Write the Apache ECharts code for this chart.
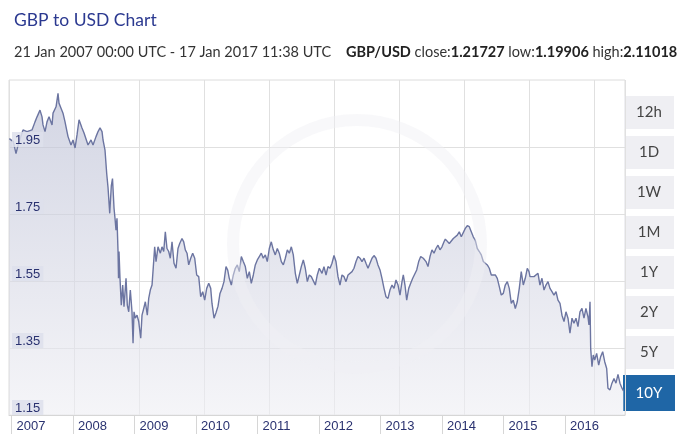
<!DOCTYPE html>
<html>
<head>
<meta charset="utf-8">
<script src="https://cdn.jsdelivr.net/npm/echarts@6/dist/echarts.min.js"></script>
<style>
html,body{margin:0;padding:0;background:#fff;}
#chart{width:687px;height:434px;}
</style>
</head>
<body>
<div id="chart"></div>
<script>
// decimal year of each sample
const years = [
2006.964,2007.029,2007.073,2007.106,2007.187,2007.252,2007.333,2007.382,2007.415,2007.463,
2007.496,2007.512,2007.545,2007.577,2007.610,2007.659,2007.675,2007.724,2007.756,2007.772,
2007.805,2007.837,2007.870,2007.902,2007.919,2007.967,2008.000,2008.033,2008.065,2008.098,
2008.146,2008.179,2008.211,2008.244,2008.293,2008.325,2008.374,2008.407,2008.439,2008.472,
2008.488,2008.520,2008.548,2008.569,2008.597,2008.623,2008.642,2008.667,2008.683,2008.699,
2008.715,2008.732,2008.740,2008.748,2008.764,2008.785,2008.808,2008.829,2008.862,2008.883,
2008.906,2008.932,2008.959,2008.976,2008.992,2009.013,2009.041,2009.068,2009.101,2009.122,
2009.150,2009.176,2009.208,2009.231,2009.257,2009.285,2009.306,2009.328,2009.350,2009.382,
2009.420,2009.447,2009.475,2009.501,2009.528,2009.556,2009.582,2009.610,2009.642,2009.675,
2009.707,2009.735,2009.772,2009.800,2009.826,2009.854,2009.881,2009.914,2009.946,2009.979,
2010.011,2010.044,2010.076,2010.109,2010.141,2010.174,2010.207,2010.239,2010.260,2010.293,
2010.325,2010.358,2010.390,2010.423,2010.455,2010.488,2010.515,2010.541,2010.574,2010.607,
2010.639,2010.672,2010.704,2010.737,2010.769,2010.802,2010.834,2010.867,2010.899,2010.932,
2010.964,2010.997,2011.029,2011.062,2011.094,2011.127,2011.159,2011.192,2011.224,2011.257,
2011.289,2011.322,2011.354,2011.387,2011.420,2011.452,2011.485,2011.517,2011.550,2011.582,
2011.615,2011.647,2011.680,2011.712,2011.745,2011.777,2011.810,2011.842,2011.875,2011.907,
2011.940,2011.972,2012.005,2012.049,2012.081,2012.114,2012.146,2012.179,2012.211,2012.244,
2012.276,2012.309,2012.341,2012.374,2012.407,2012.439,2012.472,2012.504,2012.537,2012.569,
2012.602,2012.634,2012.667,2012.699,2012.732,2012.764,2012.797,2012.829,2012.862,2012.894,
2012.927,2012.959,2012.992,2013.024,2013.057,2013.089,2013.122,2013.154,2013.187,2013.220,
2013.252,2013.285,2013.317,2013.350,2013.371,2013.398,2013.426,2013.459,2013.491,2013.524,
2013.556,2013.589,2013.621,2013.654,2013.696,2013.740,2013.772,2013.805,2013.837,2013.870,
2013.902,2013.935,2013.967,2014.000,2014.033,2014.054,2014.086,2014.119,2014.151,2014.184,
2014.216,2014.249,2014.281,2014.314,2014.346,2014.379,2014.411,2014.444,2014.476,2014.509,
2014.541,2014.574,2014.607,2014.639,2014.672,2014.704,2014.737,2014.769,2014.802,2014.834,
2014.867,2014.899,2014.932,2014.964,2014.997,2015.029,2015.062,2015.094,2015.127,2015.159,
2015.192,2015.224,2015.257,2015.289,2015.322,2015.354,2015.387,2015.415,2015.431,2015.463,
2015.496,2015.528,2015.561,2015.593,2015.626,2015.659,2015.691,2015.724,2015.756,2015.789,
2015.821,2015.854,2015.886,2015.919,2015.951,2015.984,2016.016,2016.049,2016.081,2016.114,
2016.146,2016.179,2016.211,2016.244,2016.276,2016.309,2016.341,2016.374,2016.390,2016.407,
2016.418,2016.439,2016.460,2016.483,2016.515,2016.548,2016.580,2016.613,2016.646,2016.678,
2016.699,2016.732,2016.764,2016.797,2016.829,2016.862,2016.894,2016.927,2016.951
];
// GBP/USD rate at each sample
const rates = [
1.975,1.966,1.930,1.956,2.001,1.996,2.001,2.025,2.040,2.060,
2.040,2.016,1.996,2.025,2.040,2.016,2.051,2.070,2.110,2.081,
2.066,2.051,2.025,1.996,1.981,1.956,1.971,1.947,1.986,2.031,
2.007,1.992,1.996,1.956,1.971,1.956,1.981,1.996,2.007,1.996,
1.971,1.941,1.870,1.830,1.752,1.835,1.856,1.767,1.737,1.702,
1.737,1.638,1.558,1.638,1.558,1.478,1.538,1.473,1.558,1.478,
1.458,1.523,1.458,1.364,1.458,1.439,1.448,1.429,1.379,1.448,
1.468,1.488,1.448,1.498,1.523,1.538,1.593,1.652,1.608,1.652,
1.633,1.652,1.638,1.697,1.647,1.638,1.618,1.667,1.603,1.588,
1.647,1.662,1.677,1.667,1.643,1.633,1.598,1.618,1.633,1.618,
1.568,1.563,1.503,1.518,1.493,1.528,1.543,1.528,1.483,1.439,
1.455,1.475,1.513,1.528,1.548,1.593,1.583,1.558,1.538,1.568,
1.588,1.598,1.578,1.623,1.608,1.593,1.558,1.578,1.543,1.568,
1.598,1.613,1.623,1.633,1.618,1.628,1.608,1.647,1.667,1.643,
1.628,1.647,1.633,1.608,1.598,1.618,1.643,1.633,1.652,1.628,
1.573,1.543,1.568,1.593,1.613,1.588,1.548,1.568,1.563,1.558,
1.538,1.568,1.588,1.573,1.593,1.568,1.593,1.588,1.603,1.626,
1.608,1.563,1.538,1.568,1.563,1.548,1.568,1.563,1.578,1.588,
1.608,1.623,1.618,1.608,1.618,1.603,1.588,1.603,1.618,1.626,
1.618,1.598,1.583,1.558,1.528,1.503,1.498,1.523,1.538,1.528,
1.553,1.538,1.508,1.548,1.568,1.538,1.493,1.528,1.543,1.558,
1.563,1.583,1.608,1.623,1.618,1.608,1.593,1.623,1.643,1.633,
1.647,1.657,1.643,1.652,1.667,1.675,1.672,1.662,1.657,1.677,
1.682,1.687,1.697,1.682,1.677,1.707,1.715,1.712,1.697,1.682,
1.672,1.647,1.638,1.628,1.608,1.613,1.598,1.588,1.568,1.563,
1.568,1.558,1.533,1.508,1.513,1.538,1.548,1.528,1.483,1.493,
1.468,1.488,1.528,1.578,1.538,1.558,1.588,1.578,1.563,1.568,
1.563,1.568,1.573,1.538,1.558,1.523,1.538,1.548,1.528,1.518,
1.508,1.518,1.493,1.483,1.448,1.429,1.458,1.439,1.394,1.439,
1.424,1.439,1.414,1.458,1.468,1.439,1.468,1.443,1.419,1.488,
1.349,1.294,1.329,1.314,1.334,1.299,1.324,1.339,1.309,1.289,
1.230,1.225,1.245,1.259,1.245,1.271,1.245,1.230,1.222
];
const yearTicks = [2007,2008,2009,2010,2011,2012,2013,2014,2015,2016];
const rateTicks = [1.15,1.35,1.55,1.75,1.95];
const rangeButtons = ['12h','1D','1W','1M','1Y','2Y','5Y','10Y'];
const activeButton = '10Y';
const titleText = 'GBP to USD Chart';
const rangeText = '21 Jan 2007 00:00 UTC - 17 Jan 2017 11:38 UTC';
const pairText = 'GBP/USD';
const closeText = '1.21727', lowText = '1.19906', highText = '2.11018';

const chart = echarts.init(document.getElementById('chart'), null, {renderer: 'canvas'});
const FONT = 'Lato, "Open Sans", sans-serif';
const AXFONT = '"Liberation Sans", Arial, sans-serif';

const buttonGraphics = rangeButtons.map((b, i) => {
  const active = b === activeButton;
  return {
    type: 'group',
    left: active ? 623 : 624,
    top: active ? 375 : 96 + i * 40,
    z: 100,
    children: [
      {type: 'rect', shape: {x: 0, y: 0, width: active ? 52 : 50, height: active ? 36 : 33},
       style: {fill: active ? '#1f66a6' : '#efeff3'}},
      {type: 'text', x: active ? 26 : 25, y: active ? 18 : 16.5,
       style: {text: b, fill: active ? '#ffffff' : '#444444', font: '15px ' + FONT,
               align: 'center', verticalAlign: 'middle'}}
    ]
  };
});

// faint watermark ring
const watermark = {
  type: 'circle', shape: {cx: 357, cy: 244, r: 124}, z: 50, silent: true,
  style: {fill: 'none', stroke: 'rgba(240,240,245,0.45)', lineWidth: 12}
};

const data = years.map((y, i) => [y, rates[i]]);

chart.setOption({
  animation: false,
  title: [{
    text: titleText, left: 9, top: 6,
    textStyle: {fontFamily: FONT, fontWeight: 'normal', fontSize: 17.5, color: '#2b3990'}
  }, {
    text: rangeText + '    {b|' + pairText + '} close:{b|' + closeText + '} low:{b|' + lowText + '} high:{b|' + highText + '}',
    left: 9, top: 40,
    textStyle: {fontFamily: FONT, fontWeight: 'normal', fontSize: 14.5, color: '#333',
      rich: {b: {fontFamily: FONT, fontWeight: 'bold', fontSize: 14.5, color: '#222'}}}
  }],
  grid: {left: 9, right: 62, top: 80, bottom: 19, show: true, borderColor: '#dcdcdc', borderWidth: 1, containLabel: false},
  xAxis: [{
    type: 'value', min: 2006.959, max: 2016.976,
    axisLine: {show: true, lineStyle: {color: '#d6d6d6'}},
    axisTick: {show: true, customValues: yearTicks, length: 19, lineStyle: {color: '#d6d6d6'}},
    axisLabel: {customValues: yearTicks, formatter: v => String(Math.round(v)), align: 'left',
      padding: [0, 0, 0, 5], margin: 5, color: '#2a3270', fontSize: 13, fontFamily: AXFONT},
    splitLine: {show: false}
  }, {
    type: 'value', min: 0, max: 616, interval: 65, position: 'top',
    axisLine: {show: false}, axisTick: {show: false}, axisLabel: {show: false},
    splitLine: {show: true, lineStyle: {color: '#e0e0e0', width: 1}}
  }],
  yAxis: [{
    type: 'value', min: 1.15, max: 2.15,
    axisLine: {show: false},
    axisTick: {show: false, customValues: rateTicks},
    axisLabel: {show: false},
    splitLine: {show: true, lineStyle: {color: '#e0e0e0', width: 1}}
  }, {
    type: 'value', min: 1.15, max: 2.15, position: 'left', z: 60,
    axisLine: {show: false},
    axisTick: {show: false, customValues: rateTicks},
    axisLabel: {customValues: rateTicks, inside: true, margin: 3, verticalAlign: 'bottom',
      formatter: v => v.toFixed(2), color: '#2a3270', fontSize: 13, fontFamily: AXFONT,
      backgroundColor: 'rgba(222,224,236,0.85)', padding: [2, 3, 0, 3]},
    splitLine: {show: false}
  }],
  graphic: [watermark].concat(buttonGraphics),
  series: [{
    type: 'line', data: data, showSymbol: false, symbol: 'none',
    lineStyle: {color: '#6c75a1', width: 1.4},
    areaStyle: {color: new echarts.graphic.LinearGradient(0, 0, 0, 1, [
      {offset: 0, color: 'rgba(186,190,212,0.9)'},
      {offset: 1, color: 'rgba(239,239,244,0.9)'}
    ])},
    z: 3
  }]
});
</script>
</body>
</html>
